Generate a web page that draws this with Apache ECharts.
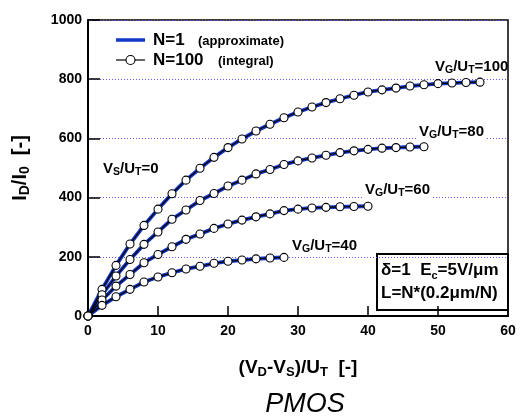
<!DOCTYPE html>
<html>
<head>
<meta charset="utf-8">
<script src="https://cdn.jsdelivr.net/npm/echarts@6/dist/echarts.min.js"></script>
<style>
  html, body { margin: 0; padding: 0; background: #fff; }
  #chart { width: 521px; height: 416px; }
</style>
</head>
<body>
<div id="chart"></div>
<script>
// Normalised drain voltage (V_D - V_S)/U_T, sampled every 2 units
const vd = [0, 2, 4, 6, 8, 10, 12, 14, 16, 18, 20, 22, 24, 26, 28, 30, 32, 34, 36, 38, 40, 42, 44, 46, 48, 50, 52, 54, 56];

// Normalised drain current I_D/I_0 for each gate voltage V_G/U_T
const id100 = [0, 90, 171, 243, 306, 361, 413, 459, 499, 536, 569, 598, 625, 648, 670, 689, 706, 721, 734, 746, 757, 764, 770, 777, 781, 785, 787, 789, 790];
const id80 = [0, 72, 135, 191, 242, 284, 327, 358, 390, 414, 439, 459, 480, 495, 512, 524, 534, 543, 552, 558, 563, 567, 569, 571, 572];
const id60 = [0, 54, 101, 140, 180, 208, 234, 259, 277, 296, 311, 324, 335, 345, 356, 361, 365, 367, 369, 370, 371];
const id40 = [0, 36, 65, 90, 115, 132, 146, 159, 168, 178, 185, 189, 193, 196, 198];

const curves = [id100, id80, id60, id40];
const xTicks = { min: 0, max: 60, step: 10 };
const yTicks = { min: 0, max: 1000, step: 200 };

const FONT = '"Liberation Sans", Arial, Helvetica, sans-serif';
const BLUE = '#1238c8';

const pairs = ys => ys.map((y, i) => [vd[i], y]);

const series = [];
curves.forEach(ys => {
  series.push({
    name: 'N=1', type: 'line', data: pairs(ys), showSymbol: false, symbol: 'none',
    lineStyle: { color: BLUE, width: 3.8 }, itemStyle: { color: BLUE },
    z: 2, silent: true, animation: false
  });
});
curves.forEach(ys => {
  series.push({
    name: 'N=100', type: 'line', data: pairs(ys), symbol: 'circle', symbolSize: 8,
    lineStyle: { color: '#000', width: 1.2 },
    itemStyle: { color: '#fff', borderColor: '#000', borderWidth: 1.1 },
    z: 3, silent: true, animation: false
  });
});

const subRich = (main, sub) => ({
  m: { fontFamily: FONT, fontWeight: 'bold', fontSize: main, lineHeight: main + 4, color: '#000' },
  s: { fontFamily: FONT, fontWeight: 'bold', fontSize: sub, lineHeight: sub, verticalAlign: 'bottom', color: '#000' }
});

const vgText = v => '{m|V}{s|G}{m|/U}{s|T}{m|=' + v + '}';

const labelStyle = (txt, left, top, white) => ({
  type: 'text', left: left, top: top, z: 20,
  style: {
    text: txt, rich: subRich(15, 10.5),
    backgroundColor: white ? '#fff' : 'transparent', padding: [0, 1, 0, 1]
  }
});

const boldText = (txt, x, y, size) => ({
  type: 'text', x: x, y: y, z: 20,
  style: { text: txt, fontFamily: FONT, fontWeight: 'bold', fontSize: size, fill: '#000', verticalAlign: 'middle' }
});

const chart = echarts.init(document.getElementById('chart'), null, { renderer: 'canvas' });

chart.setOption({
  backgroundColor: '#fff',
  animation: false,
  grid: { left: 88, right: 13, top: 20, bottom: 100, show: true, borderColor: '#000', borderWidth: 1.5, backgroundColor: 'transparent' },
  xAxis: {
    type: 'value', min: xTicks.min, max: xTicks.max, interval: xTicks.step,
    name: '{m|(V}{s|D}{m|-V}{s|S}{m|)/U}{s|T}{m|  [-]}',
    nameLocation: 'middle', nameGap: 40,
    nameTextStyle: { rich: subRich(19, 13) },
    axisLine: { lineStyle: { color: '#000', width: 2 } },
    axisTick: { inside: true, length: 10, lineStyle: { color: '#000', width: 1.5 } },
    axisLabel: { fontFamily: FONT, fontWeight: 'bold', fontSize: 14, color: '#000', margin: 8, formatter: v => String(v) },
    splitLine: { show: false }
  },
  yAxis: {
    type: 'value', min: yTicks.min, max: yTicks.max, interval: yTicks.step,
    name: '{m|I}{s|D}{m|/I}{s|0}{m|  [-]}',
    nameLocation: 'middle', nameGap: 56,
    nameTextStyle: { rich: subRich(20, 14) },
    axisLine: { lineStyle: { color: '#000', width: 2 } },
    axisTick: { inside: true, length: 12, lineStyle: { color: '#000', width: 1.5 } },
    axisLabel: { fontFamily: FONT, fontWeight: 'bold', fontSize: 14, color: '#000', margin: 6, formatter: v => String(v) },
    splitLine: { show: true, lineStyle: { color: '#5b5bff', width: 1, type: [1, 2] } }
  },
  series: series,
  graphic: [
    // legend
    { type: 'line', z: 20, shape: { x1: 116, y1: 40, x2: 145, y2: 40 }, style: { stroke: BLUE, lineWidth: 3.5 } },
    { type: 'line', z: 20, shape: { x1: 116, y1: 60, x2: 145, y2: 60 }, style: { stroke: '#000', lineWidth: 1.2 } },
    { type: 'circle', z: 21, shape: { cx: 130.5, cy: 60, r: 4.5 }, style: { fill: '#fff', stroke: '#000', lineWidth: 1.1 } },
    boldText('N=1', 153, 40, 17),
    boldText('(approximate)', 198, 41, 13),
    boldText('N=100', 153, 60, 17),
    boldText('(integral)', 218, 61, 13),

    labelStyle(vgText(100), 434, 57, false),
    labelStyle(vgText(80), 418, 122, true),
    labelStyle(vgText(60), 364, 180, true),
    labelStyle(vgText(40), 291, 236, false),
    {
      type: 'text', left: 103, top: 161, z: 20,
      style: { text: '{m|V}{s|S}{m|/U}{s|T}{m|=0}', rich: subRich(15, 10.5) }
    },
    {
      type: 'group', left: 376, top: 253, z: 30,
      children: [
        { type: 'rect', shape: { x: 0, y: 0, width: 131, height: 56 },
          style: { fill: '#fff', stroke: '#000', lineWidth: 2 } },
        { type: 'text', x: 4, y: 6,
          style: { text: '{m|δ=1  E}{s|c}{m|=5V/μm}', rich: subRich(17, 11) } },
        { type: 'text', x: 4, y: 29,
          style: { text: '{m|L=N*(0.2μm/N)}', rich: subRich(17, 11) } }
      ]
    },
    {
      type: 'text', x: 305, y: 404, z: 20,
      style: { text: 'PMOS', fontFamily: FONT, fontStyle: 'italic', fontSize: 27, fill: '#000', align: 'center', verticalAlign: 'middle' }
    }
  ]
});
</script>
</body>
</html>
